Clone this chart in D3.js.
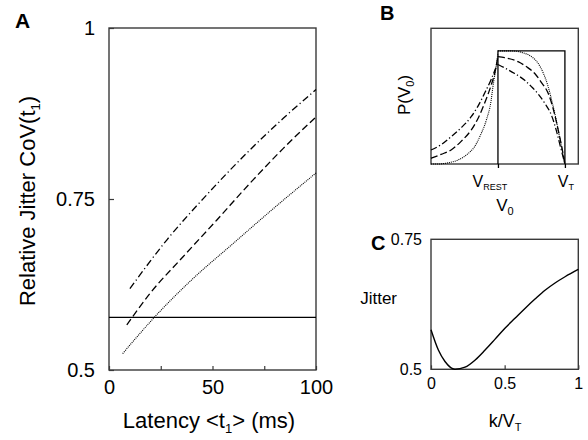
<!DOCTYPE html>
<html>
<head>
<meta charset="utf-8">
<script src="https://cdn.jsdelivr.net/npm/d3@7"></script>
<style>
  html, body { margin: 0; padding: 0; background: #fff; }
  svg { display: block; }
  text { font-family: "Liberation Sans", Arial, Helvetica, sans-serif; fill: #000; }
</style>
</head>
<body>
<svg id="chart" width="588" height="440"></svg>
<script>
// ---------------- Panel A data ----------------
const latDashDot = [10.1, 27.9, 47.2, 66.5, 84.2, 100];
const jitDashDot = [0.619, 0.690, 0.756, 0.817, 0.868, 0.910];
const latDashed  = [8.6, 19.8, 35.9, 52.0, 68.1, 84.2, 100];
const jitDashed  = [0.566, 0.612, 0.666, 0.719, 0.773, 0.824, 0.870];
const latDotted  = [6.6, 22.2, 40.7, 60.0, 79.4, 100];
const jitDotted  = [0.524, 0.578, 0.634, 0.685, 0.736, 0.788];
const jitterRef  = 0.577;
const aXTicks = [0, 25, 50, 75, 100];
const aXLabels = ["0", "", "50", "", "100"];
const aYTicks = [0.5, 0.75, 1];
const aYLabels = ["0.5", "0.75", "1"];

// ---------------- Panel B data ----------------
const bDottedV  = [-1, -0.9, -0.75, -0.6, -0.45, -0.35, -0.25, -0.173, -0.1, -0.075, -0.03, 0];
const bDottedP  = [0, 0, 0.01, 0.035, 0.09, 0.153, 0.27, 0.389, 0.57, 0.684, 0.85, 0.98];
const bDottedRV = [0, 0.2, 0.4, 0.5, 0.6, 0.68, 0.75, 0.82, 0.87, 0.92, 0.95, 0.98, 1];
const bDottedRP = [1.0, 1.0, 0.979, 0.95, 0.89, 0.80, 0.684, 0.52, 0.389, 0.24, 0.153, 0.06, 0];
const bDashedV  = [-1, -0.85, -0.7, -0.55, -0.4, -0.3, -0.2, -0.1, -0.05, 0];
const bDashedP  = [0.05, 0.085, 0.124, 0.2, 0.30, 0.40, 0.537, 0.70, 0.80, 0.95];
const bDashedRV = [0, 0.1, 0.3, 0.45, 0.55, 0.65, 0.75, 0.82, 0.9, 0.95, 1];
const bDashedRP = [0.95, 0.94, 0.905, 0.85, 0.80, 0.72, 0.625, 0.50, 0.30, 0.16, 0];
const bDashDotV  = [-1, -0.85, -0.7, -0.55, -0.4, -0.3, -0.2, -0.1, 0];
const bDashDotP  = [0.124, 0.17, 0.241, 0.32, 0.418, 0.51, 0.625, 0.75, 0.9];
const bDashDotRV = [0, 0.1, 0.25, 0.4, 0.5, 0.6, 0.7, 0.8, 0.87, 0.93, 1];
const bDashDotRP = [0.88, 0.85, 0.80, 0.74, 0.684, 0.62, 0.537, 0.43, 0.30, 0.16, 0];
const bRectV = [0, 0, 1, 1];
const bRectP = [0, 1, 1, 0];
const bXTicks = [0, 1];

// ---------------- Panel C data ----------------
const kOverVT = [0, 0.05, 0.095, 0.163, 0.231, 0.30, 0.367, 0.435, 0.502, 0.57, 0.638, 0.706, 0.774, 0.842, 0.910, 1];
const jitterC = [0.576, 0.537, 0.515, 0.500, 0.504, 0.518, 0.537, 0.558, 0.579, 0.598, 0.617, 0.635, 0.652, 0.666, 0.678, 0.692];
const cXTicks = [0, 0.5, 1];
const cXLabels = ["0", "0.5", "1"];
const cYTicks = [0.5, 0.75];
const cYLabels = ["0.5", "0.75"];

const svg = d3.select("#chart");
const boxColor = "#3a3a3a";
const zip = (xs, ys) => xs.map((x, i) => [x, ys[i]]);

// ================= PANEL A =================
const ax = d3.scaleLinear().domain([0, 100]).range([109, 316]);
const ay = d3.scaleLinear().domain([0.5, 1]).range([370, 28]);
const gA = svg.append("g");

gA.append("g").attr("transform", "translate(0,370)")
  .call(d3.axisBottom(ax).tickValues(aXTicks).tickSizeInner(-4).tickSizeOuter(0).tickPadding(10)
    .tickFormat((d, i) => aXLabels[i]))
  .call(g => g.select(".domain").remove())
  .call(g => g.selectAll("line").attr("stroke", boxColor).attr("stroke-width", 1.2))
  .call(g => g.selectAll("text").attr("font-size", 20).attr("font-family", null));

gA.append("g").attr("transform", "translate(109,0)")
  .call(d3.axisLeft(ay).tickValues(aYTicks).tickSizeInner(-5).tickSizeOuter(0).tickPadding(14)
    .tickFormat((d, i) => aYLabels[i]))
  .call(g => g.select(".domain").remove())
  .call(g => g.selectAll("line").attr("stroke", boxColor).attr("stroke-width", 1.2))
  .call(g => g.selectAll("text").attr("font-size", 20).attr("font-family", null));

gA.append("rect").attr("x", ax(0)).attr("y", ay(1))
  .attr("width", ax(100) - ax(0)).attr("height", ay(0.5) - ay(1))
  .attr("fill", "none").attr("stroke", boxColor).attr("stroke-width", 1.4);

gA.append("line").attr("x1", ax(0)).attr("x2", ax(100))
  .attr("y1", ay(jitterRef)).attr("y2", ay(jitterRef))
  .attr("stroke", "#000").attr("stroke-width", 1.3);

const lineA = d3.line().x(d => ax(d[0])).y(d => ay(d[1])).curve(d3.curveMonotoneX);
gA.append("path").attr("d", lineA(zip(latDashDot, jitDashDot)))
  .attr("fill", "none").attr("stroke", "#000").attr("stroke-width", 1.3)
  .attr("stroke-dasharray", "7,3,1.2,3");
gA.append("path").attr("d", lineA(zip(latDashed, jitDashed)))
  .attr("fill", "none").attr("stroke", "#000").attr("stroke-width", 1.3)
  .attr("stroke-dasharray", "7,3.5");
gA.append("path").attr("d", lineA(zip(latDotted, jitDotted)))
  .attr("fill", "none").attr("stroke", "#000").attr("stroke-width", 1.1)
  .attr("stroke-dasharray", "1,1");

svg.append("text").attr("x", 15).attr("y", 28).attr("font-size", 21).attr("font-weight", "bold").text("A");

// A axis titles
const tA = svg.append("text").attr("x", 209).attr("y", 428).attr("font-size", 22).attr("text-anchor", "middle");
tA.append("tspan").text("Latency <t");
tA.append("tspan").attr("font-size", 13).attr("dy", 5).text("1");
tA.append("tspan").attr("dy", -5).text("> (ms)");

const yA = svg.append("text").attr("transform", "translate(35,201) rotate(-90)")
  .attr("font-size", 22).attr("text-anchor", "middle");
yA.append("tspan").text("Relative Jitter CoV(t");
yA.append("tspan").attr("font-size", 13).attr("dy", 5).text("1");
yA.append("tspan").attr("dy", -5).text(")");

// ================= PANEL B =================
const bx = d3.scaleLinear().domain([-1, 1.2]).range([431, 578.3]);
const by = d3.scaleLinear().domain([0, 1.2]).range([164, 28.3]);
const gB = svg.append("g");

gB.append("rect").attr("x", bx(-1)).attr("y", by(1.2))
  .attr("width", bx(1.2) - bx(-1)).attr("height", by(0) - by(1.2))
  .attr("fill", "none").attr("stroke", boxColor).attr("stroke-width", 1.4);

gB.append("g").attr("transform", "translate(0,164)")
  .call(d3.axisBottom(bx).tickValues(bXTicks).tickSizeInner(4).tickSizeOuter(0).tickFormat(""))
  .call(g => g.select(".domain").remove())
  .call(g => g.selectAll("line").attr("stroke", "#000").attr("stroke-width", 1.3));

const lineB = d3.line().x(d => bx(d[0])).y(d => by(d[1])).curve(d3.curveMonotoneX);
const lineRect = d3.line().x(d => bx(d[0])).y(d => by(d[1]));
gB.append("path").attr("d", lineRect(zip(bRectV, bRectP)))
  .attr("fill", "none").attr("stroke", "#000").attr("stroke-width", 1.3);

const bStyles = [
  {l: [bDottedV, bDottedP], r: [bDottedRV, bDottedRP], dash: "1,1", w: 1.1},
  {l: [bDashedV, bDashedP], r: [bDashedRV, bDashedRP], dash: "7,3", w: 1.3},
  {l: [bDashDotV, bDashDotP], r: [bDashDotRV, bDashDotRP], dash: "6.5,2.5,1.2,2.5", w: 1.3}
];
bStyles.forEach(s => {
  [s.l, s.r].forEach(part => {
    gB.append("path").attr("d", lineB(zip(part[0], part[1])))
      .attr("fill", "none").attr("stroke", "#000").attr("stroke-width", s.w)
      .attr("stroke-dasharray", s.dash);
  });
});

svg.append("text").attr("x", 380).attr("y", 20).attr("font-size", 20).attr("font-weight", "bold").text("B");

const vr = svg.append("text").attr("x", bx(0) - 8).attr("y", 187).attr("font-size", 16).attr("text-anchor", "middle");
vr.append("tspan").text("V");
vr.append("tspan").attr("font-size", 9).attr("dy", 3).text("REST");
const vt = svg.append("text").attr("x", bx(1) + 1).attr("y", 187).attr("font-size", 16).attr("text-anchor", "middle");
vt.append("tspan").text("V");
vt.append("tspan").attr("font-size", 9).attr("dy", 3).text("T");
const v0 = svg.append("text").attr("x", 505).attr("y", 211).attr("font-size", 17).attr("text-anchor", "middle");
v0.append("tspan").text("V");
v0.append("tspan").attr("font-size", 11).attr("dy", 4).text("0");

const pv = svg.append("text").attr("transform", "translate(410,95) rotate(-90)").attr("font-size", 17).attr("text-anchor", "middle");
pv.append("tspan").text("P(V");
pv.append("tspan").attr("font-size", 11).attr("dy", 4).text("0");
pv.append("tspan").attr("dy", -4).text(")");

// ================= PANEL C =================
const cx = d3.scaleLinear().domain([0, 1]).range([431, 578.3]);
const cy = d3.scaleLinear().domain([0.5, 0.75]).range([369.3, 239.3]);
const gC = svg.append("g");

gC.append("g").attr("transform", "translate(0,369.3)")
  .call(d3.axisBottom(cx).tickValues(cXTicks).tickSizeInner(-4).tickSizeOuter(0).tickPadding(8)
    .tickFormat((d, i) => cXLabels[i]))
  .call(g => g.select(".domain").remove())
  .call(g => g.selectAll("line").attr("stroke", boxColor).attr("stroke-width", 1.2))
  .call(g => g.selectAll("text").attr("font-size", 16).attr("font-family", null));

gC.append("g").attr("transform", "translate(431,0)")
  .call(d3.axisLeft(cy).tickValues(cYTicks).tickSize(0).tickPadding(9)
    .tickFormat((d, i) => cYLabels[i]))
  .call(g => g.select(".domain").remove())
  .call(g => g.selectAll("text").attr("font-size", 16).attr("font-family", null));

gC.append("rect").attr("x", cx(0)).attr("y", cy(0.75))
  .attr("width", cx(1) - cx(0)).attr("height", cy(0.5) - cy(0.75))
  .attr("fill", "none").attr("stroke", boxColor).attr("stroke-width", 1.4);

const lineC = d3.line().x(d => cx(d[0])).y(d => cy(d[1])).curve(d3.curveMonotoneX);
gC.append("path").attr("d", lineC(zip(kOverVT, jitterC)))
  .attr("fill", "none").attr("stroke", "#000").attr("stroke-width", 1.4);

svg.append("text").attr("x", 371).attr("y", 250).attr("font-size", 20).attr("font-weight", "bold").text("C");

svg.append("text").attr("x", 397).attr("y", 304).attr("font-size", 17).attr("text-anchor", "end").text("Jitter");

const kv = svg.append("text").attr("x", 505).attr("y", 427).attr("font-size", 18).attr("text-anchor", "middle");
kv.append("tspan").text("k/V");
kv.append("tspan").attr("font-size", 11).attr("dy", 4).text("T");
</script>
</body>
</html>
